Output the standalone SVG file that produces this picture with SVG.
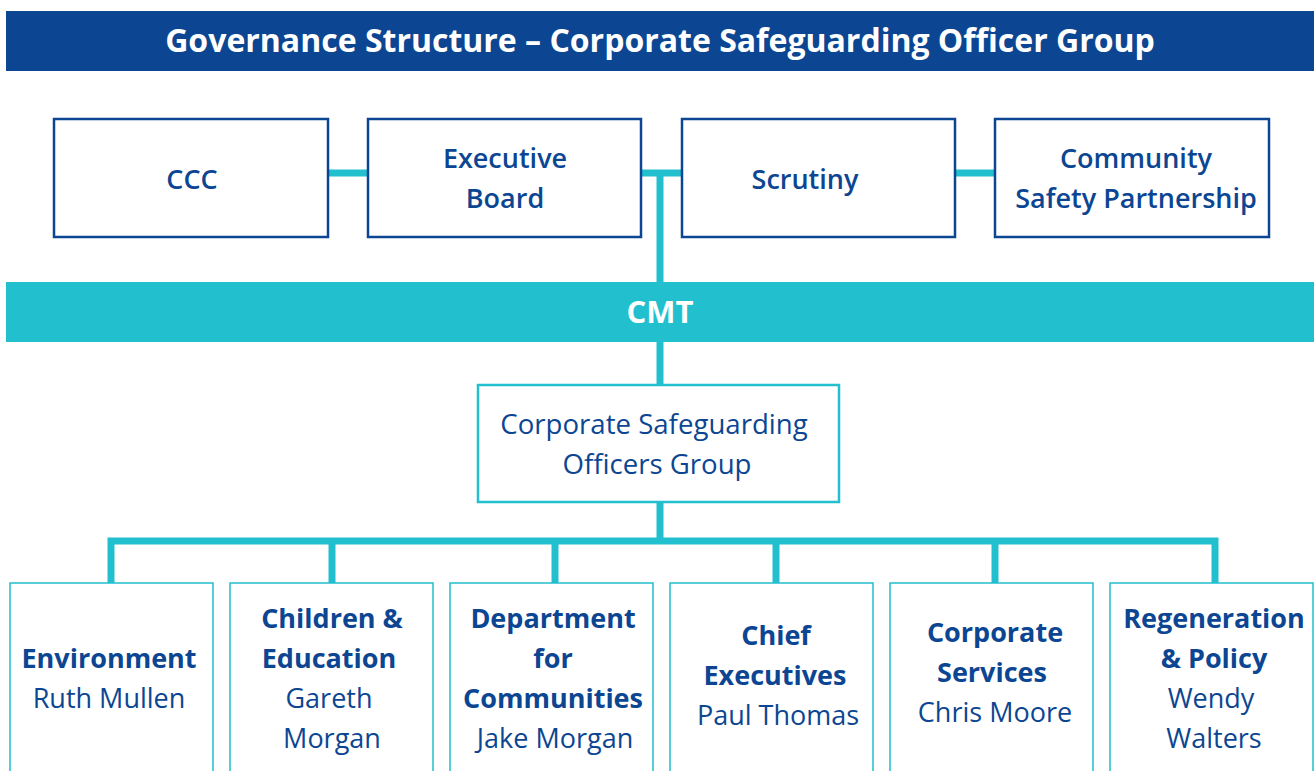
<svg xmlns="http://www.w3.org/2000/svg" width="1314" height="771" viewBox="0 0 1314 771">
<style>
text{font-family:"Open Sans","Noto Sans","Liberation Sans",sans-serif;text-anchor:middle;fill:#0C4692}
.title{font-size:32px;font-weight:700;fill:#fff}
.cmt{font-size:31px;font-weight:700;fill:#fff}
.top{font-size:27px;font-weight:600}
.topbox{fill:#fff;stroke:#0C4692;stroke-width:2.5}
.cyanbox{fill:#fff;stroke:#22BFCE;stroke-width:2.5}
.dept{fill:#fff;stroke:#22BFCE;stroke-width:1.5}
.b{font-size:27px;font-weight:700}
.r{font-size:27px;font-weight:400}
.r2{font-size:27.6px;font-weight:400}
.conn{stroke:#22BFCE;stroke-width:7;fill:none}
</style>
<rect width="1314" height="771" fill="#fff"/>
<g id="connectors">
<line class="conn" x1="328" y1="173" x2="368" y2="173" stroke-width="8"/>
<line class="conn" x1="641" y1="173" x2="682" y2="173" stroke-width="8"/>
<line class="conn" x1="955" y1="173" x2="995" y2="173" stroke-width="8"/>
<line class="conn" x1="660" y1="173" x2="660" y2="284"/>
<line class="conn" x1="660" y1="340" x2="660" y2="385"/>
<line class="conn" x1="660" y1="502" x2="660" y2="541"/>
<polyline class="conn" points="111,583 111,541 1215,541 1215,583"/>
<line class="conn" x1="332" y1="541" x2="332" y2="583"/>
<line class="conn" x1="555" y1="541" x2="555" y2="583"/>
<line class="conn" x1="776" y1="541" x2="776" y2="583"/>
<line class="conn" x1="995" y1="541" x2="995" y2="583"/>
</g>
<g id="title">
<rect x="6" y="11" width="1308" height="60" fill="#0C4692"/>
<text class="title" x="660" y="52">Governance Structure – Corporate Safeguarding Officer Group</text>
</g>
<g id="ccc">
<rect class="topbox" x="54" y="119" width="274" height="118"/>
<text class="top" x="192" y="189">CCC</text>
</g>
<g id="executive-board">
<rect class="topbox" x="368" y="119" width="273" height="118"/>
<text class="top" x="505" y="168">Executive</text>
<text class="top" x="505" y="208">Board</text>
</g>
<g id="scrutiny">
<rect class="topbox" x="682" y="119" width="273" height="118"/>
<text class="top" x="805" y="189">Scrutiny</text>
</g>
<g id="community-safety">
<rect class="topbox" x="995" y="119" width="274" height="118"/>
<text class="top" x="1136" y="168">Community</text>
<text class="top" x="1136" y="208">Safety Partnership</text>
</g>
<g id="cmt">
<rect x="6" y="282" width="1308" height="60" fill="#22BFCE"/>
<text class="cmt" x="660" y="323">CMT</text>
</g>
<g id="csog">
<rect class="cyanbox" x="478" y="385" width="361" height="117"/>
<text class="r2" x="654" y="434">Corporate Safeguarding</text>
<text class="r2" x="657" y="474">Officers Group</text>
</g>
<g id="environment">
<rect class="dept" x="10" y="583" width="203" height="200"/>
<text class="b" x="109" y="668">Environment</text>
<text class="r" x="109" y="708">Ruth Mullen</text>
</g>
<g id="children-education">
<rect class="dept" x="230" y="583" width="203" height="200"/>
<text class="b" x="332" y="628">Children &amp;</text>
<text class="b" x="329" y="668">Education</text>
<text class="r" x="329" y="708">Gareth</text>
<text class="r" x="332" y="748">Morgan</text>
</g>
<g id="communities">
<rect class="dept" x="450" y="583" width="203" height="200"/>
<text class="b" x="553" y="628">Department</text>
<text class="b" x="553" y="668">for</text>
<text class="b" x="553" y="708">Communities</text>
<text class="r" x="555" y="748">Jake Morgan</text>
</g>
<g id="chief-executives">
<rect class="dept" x="670" y="583" width="203" height="200"/>
<text class="b" x="776" y="645">Chief</text>
<text class="b" x="775" y="685">Executives</text>
<text class="r" x="778" y="725">Paul Thomas</text>
</g>
<g id="corporate-services">
<rect class="dept" x="890" y="583" width="203" height="200"/>
<text class="b" x="995" y="642">Corporate</text>
<text class="b" x="992" y="682">Services</text>
<text class="r" x="995" y="722">Chris Moore</text>
</g>
<g id="regeneration-policy">
<rect class="dept" x="1110" y="583" width="203" height="200"/>
<text class="b" x="1214" y="628">Regeneration</text>
<text class="b" x="1214" y="668">&amp; Policy</text>
<text class="r" x="1211" y="708">Wendy</text>
<text class="r" x="1214" y="748">Walters</text>
</g>
</svg>
